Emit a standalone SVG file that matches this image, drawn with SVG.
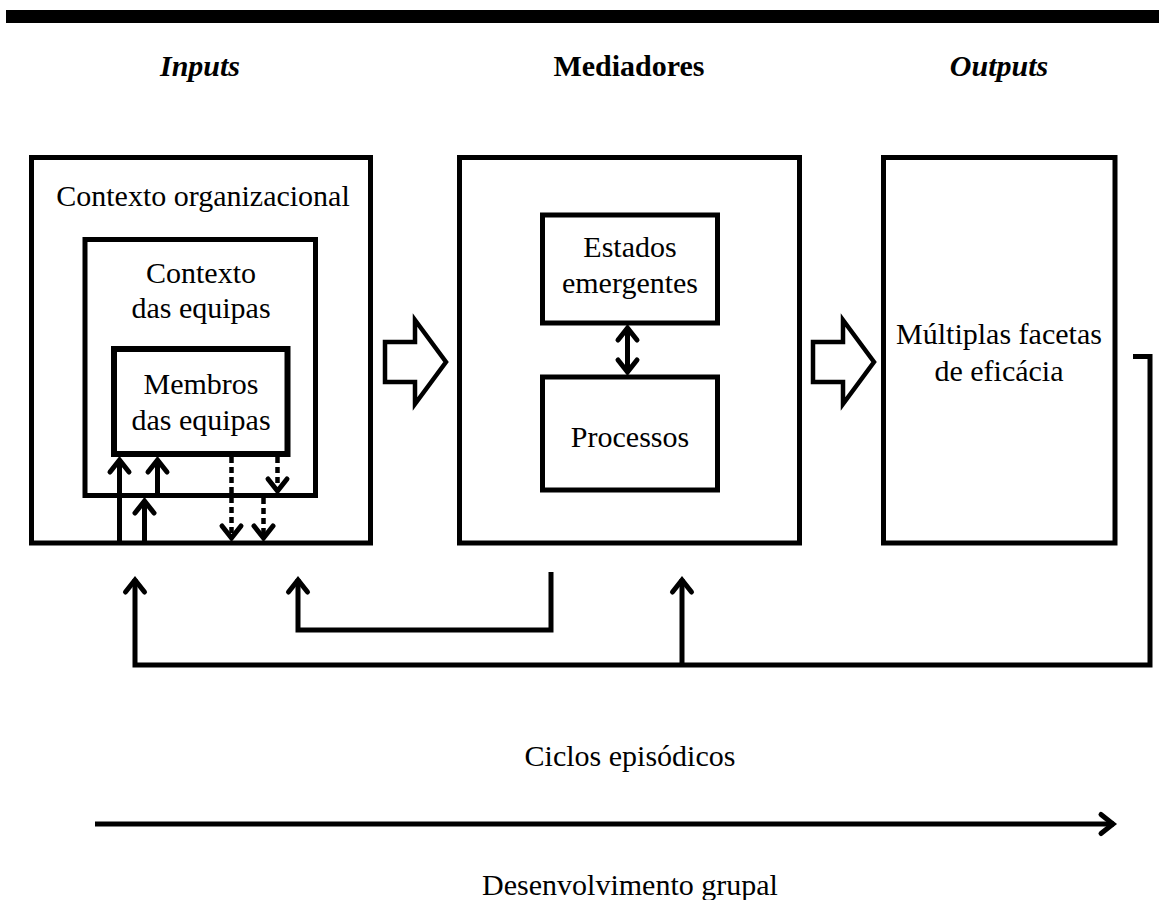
<svg xmlns="http://www.w3.org/2000/svg" width="1159" height="900" viewBox="0 0 1159 900">
<defs>
<style>
.box{fill:#fff;stroke:#000;stroke-width:5}
.t{font-family:"Liberation Serif","Times New Roman",serif;font-size:30px;fill:#000;text-anchor:middle}
.h{font-weight:bold}
.hi{font-weight:bold;font-style:italic}
.ln{fill:none;stroke:#000;stroke-width:5}
.dot{fill:none;stroke:#000;stroke-width:4.5;stroke-dasharray:6 4}
.blk{fill:#fff;stroke:#000;stroke-width:4.5;stroke-linejoin:miter}
</style>
<marker id="ah" markerUnits="userSpaceOnUse" viewBox="-16 -13 20 26" markerWidth="20" markerHeight="26" refX="0" refY="0" orient="auto" overflow="visible">
<path d="M-13,-9.5 L-1,0 L-13,9.5" fill="none" stroke="#000" stroke-width="5" stroke-linecap="round" stroke-linejoin="miter"/>
</marker>
<marker id="ahs" markerUnits="userSpaceOnUse" viewBox="-16 -13 20 26" markerWidth="20" markerHeight="26" refX="0" refY="0" orient="auto-start-reverse" overflow="visible">
<path d="M-13,-9.5 L-1,0 L-13,9.5" fill="none" stroke="#000" stroke-width="5" stroke-linecap="round" stroke-linejoin="miter"/>
</marker>
</defs>
<rect x="6" y="10" width="1153" height="13" fill="#000"/>
<text class="t hi" x="200" y="76">Inputs</text>
<text class="t h" x="629" y="76">Mediadores</text>
<text class="t hi" x="999" y="76">Outputs</text>

<g id="inputs">
<rect class="box" x="31.5" y="157.5" width="339" height="385.5"/>
<text class="t" x="203" y="206">Contexto organizacional</text>
</g>
<g id="contexto-equipas">
<rect class="box" x="85" y="239.5" width="230.5" height="256"/>
<text class="t" x="201" y="283">Contexto</text>
<text class="t" x="201" y="318">das equipas</text>
</g>
<g id="membros">
<rect class="box" x="114" y="349" width="173.5" height="105" style="stroke-width:6"/>
<text class="t" x="201" y="394">Membros</text>
<text class="t" x="201" y="430">das equipas</text>
</g>
<g id="mediadores">
<rect class="box" x="459.5" y="157.5" width="340" height="385.5"/>
</g>
<g id="estados">
<rect class="box" x="542.5" y="215" width="175" height="108"/>
<text class="t" x="630" y="257">Estados</text>
<text class="t" x="630" y="293">emergentes</text>
</g>
<g id="processos">
<rect class="box" x="542.5" y="377" width="175" height="113"/>
<text class="t" x="630" y="447">Processos</text>
</g>
<g id="outputs">
<rect class="box" x="883.5" y="157.5" width="231.5" height="385.5"/>
<text class="t" x="999" y="344">Múltiplas facetas</text>
<text class="t" x="999" y="381">de eficácia</text>
</g>

<g id="connectors">
<path class="ln" d="M119.5,543 V459" marker-end="url(#ah)"/>
<path class="ln" d="M157.5,495 V459" marker-end="url(#ah)"/>
<path class="ln" d="M144.5,543 V500" marker-end="url(#ah)"/>
<path class="dot" d="M231.5,457 V539" marker-end="url(#ah)"/>
<path class="dot" d="M277.5,457 V492" marker-end="url(#ah)"/>
<path class="dot" d="M263.5,498 V539" marker-end="url(#ah)"/>
<path class="ln" d="M627.5,327 V373" marker-start="url(#ahs)" marker-end="url(#ahs)"/>
<polygon class="blk" points="385,342 415,342 415,320 446,362 415,404 415,382 385,382"/>
<polygon class="blk" points="813,342 843,342 843,320 874,362 843,404 843,382 813,382"/>
<path class="ln" d="M1133,356.5 H1150 V665 H135 V579" marker-end="url(#ah)"/>
<path class="ln" d="M682,665 V579" marker-end="url(#ah)"/>
<path class="ln" d="M551,572 V630 H298 V579" marker-end="url(#ah)"/>
<path class="ln" d="M95,824 H1114" marker-end="url(#ah)"/>
</g>
<text class="t" x="630" y="766">Ciclos episódicos</text>
<text class="t" x="630" y="895">Desenvolvimento grupal</text>
</svg>
